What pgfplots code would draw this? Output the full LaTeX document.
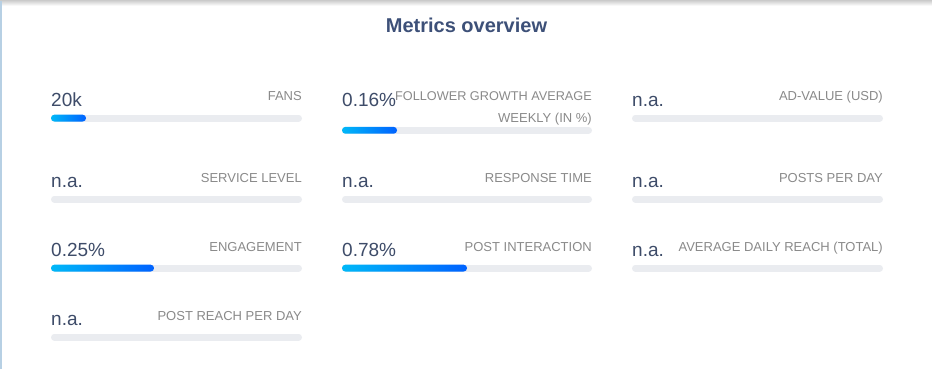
\documentclass[border=0pt]{standalone}
\usepackage{fontspec}
\setmainfont{Liberation Sans}
\usepackage{pgfplots}
\pgfplotsset{compat=1.18}
\definecolor{titc}{HTML}{3D5078}
\definecolor{valc}{HTML}{3E4C69}
\definecolor{labc}{HTML}{8A8A8A}
\definecolor{track}{HTML}{EAECF0}
\definecolor{gA}{HTML}{00B8F8}
\definecolor{gB}{HTML}{0062FF}
\definecolor{edge}{HTML}{B7D0E4}
\newcommand{\valfont}{\fontsize{19}{19}\selectfont}
\newcommand{\labfont}{\fontsize{13}{13}\selectfont}
\begin{document}
\begin{tikzpicture}
\begin{axis}[scale only axis, width=932pt, height=368pt,
  xmin=0, xmax=932, ymin=0, ymax=368, y dir=reverse,
  axis lines=none, clip=false]
% background, top shadow and left edge
\fill[white] (axis cs:0,0) rectangle (axis cs:932,368);
\shade[top color=black!18, bottom color=white] (axis cs:0,0) rectangle (axis cs:932,5);
\draw[edge, line width=1.6pt] (axis cs:1,0) -- (axis cs:1,368);
% title
\node[anchor=base, inner sep=0, font=\bfseries\fontsize{20}{20}\selectfont, text=titc] at (axis cs:466.5,31.5) {Metrics overview};
% tracks (full length of each card)
\pgfplotsset{trk/.style={track, line width=6.8pt, line cap=round}}
\addplot[trk] coordinates {(54.4,117.3) (298.6,117.3)};
\addplot[trk] coordinates {(345.4,129.5) (588.6,129.5)};
\addplot[trk] coordinates {(635.4,117.3) (879.6,117.3)};
\addplot[trk] coordinates {(54.4,198.3) (298.6,198.3)};
\addplot[trk] coordinates {(345.4,198.3) (588.6,198.3)};
\addplot[trk] coordinates {(635.4,198.3) (879.6,198.3)};
\addplot[trk] coordinates {(54.4,267.3) (298.6,267.3)};
\addplot[trk] coordinates {(345.4,267.3) (588.6,267.3)};
\addplot[trk] coordinates {(635.4,267.3) (879.6,267.3)};
\addplot[trk] coordinates {(54.4,336.3) (298.6,336.3)};
% filled values (gradient)
\pgfplotsset{fil/.style={draw=none, left color=gA, right color=gB, rounded corners=3.3pt}}
\addplot[fil] coordinates {(51,113.9) (86,113.9) (86,120.7) (51,120.7)} -- cycle;   % fans
\addplot[fil] coordinates {(342,126.1) (397,126.1) (397,132.9) (342,132.9)} -- cycle; % follower growth
\addplot[fil] coordinates {(51,263.9) (154,263.9) (154,270.7) (51,270.7)} -- cycle;  % engagement
\addplot[fil] coordinates {(342,263.9) (467,263.9) (467,270.7) (342,270.7)} -- cycle; % post interaction
% values
\tikzset{val/.style={anchor=base west, inner sep=0, font=\valfont, text=valc},
         lab/.style={anchor=base east, inner sep=0, font=\labfont, text=labc}}
\node[val] at (axis cs:51,106) {20k};
\node[val] at (axis cs:342,106) {0.16\%};
\node[val] at (axis cs:632,106) {n.a.};
\node[val] at (axis cs:51,186.7) {n.a.};
\node[val] at (axis cs:342,186.7) {n.a.};
\node[val] at (axis cs:632,186.7) {n.a.};
\node[val] at (axis cs:51,256) {0.25\%};
\node[val] at (axis cs:342,256) {0.78\%};
\node[val] at (axis cs:632,256) {n.a.};
\node[val] at (axis cs:51,325) {n.a.};
% labels
\node[lab] at (axis cs:302,100) {FANS};
\node[lab, font=\fontsize{12.7}{13}\selectfont] at (axis cs:592,100) {FOLLOWER GROWTH AVERAGE};
\node[lab] at (axis cs:592,121.5) {WEEKLY (IN \%)};
\node[lab] at (axis cs:883,100) {AD-VALUE (USD)};
\node[lab] at (axis cs:302,181.7) {SERVICE LEVEL};
\node[lab] at (axis cs:592,181.7) {RESPONSE TIME};
\node[lab] at (axis cs:883,181.7) {POSTS PER DAY};
\node[lab] at (axis cs:302,250.7) {ENGAGEMENT};
\node[lab] at (axis cs:592,250.7) {POST INTERACTION};
\node[lab] at (axis cs:883,250.7) {AVERAGE DAILY REACH (TOTAL)};
\node[lab] at (axis cs:302,319.3) {POST REACH PER DAY};
\end{axis}
\end{tikzpicture}
\end{document}
